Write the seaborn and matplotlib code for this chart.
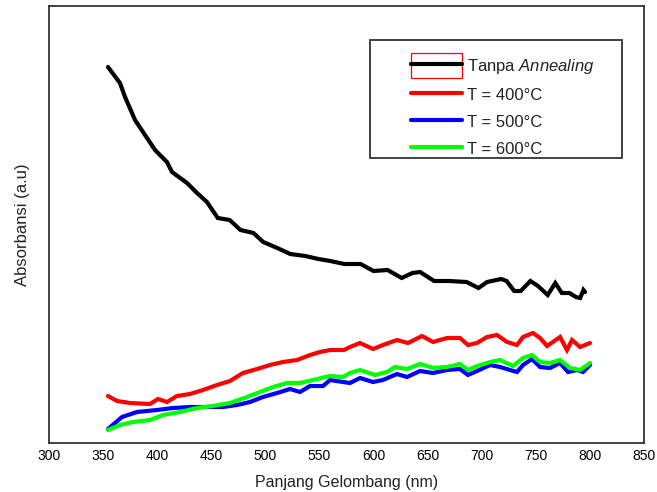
import numpy as np
import pandas as pd
import matplotlib
matplotlib.use("Agg")
import matplotlib.pyplot as plt
from matplotlib.legend_handler import HandlerLine2D
from matplotlib.lines import Line2D
from matplotlib.patches import Rectangle
import seaborn as sns

# Absorbance spectra (arbitrary units) against wavelength in nm
wl_as = [354.5, 365.6, 370.3, 379.5, 386.9, 398.0, 409.0, 413.7, 427.6, 436.8,
         446.0, 456.0, 467.0, 477.0, 489.0, 498.0, 511.0, 523.0, 537.0, 549.0,
         560.0, 573.0, 588.0, 600.0, 613.0, 626.0, 636.0, 643.0, 656.0, 670.0,
         686.0, 697.0, 705.0, 718.0, 723.0, 730.0, 736.0, 745.0, 752.0, 761.0,
         768.0, 774.0, 781.0, 787.0, 791.0, 794.0, 795.5]
abs_as = [1.880, 1.800, 1.730, 1.615, 1.555, 1.465, 1.405, 1.355, 1.300, 1.250,
          1.205, 1.125, 1.115, 1.065, 1.050, 1.005, 0.975, 0.945, 0.935, 0.920,
          0.910, 0.895, 0.895, 0.860, 0.865, 0.825, 0.850, 0.855, 0.810, 0.810,
          0.805, 0.775, 0.805, 0.820, 0.810, 0.760, 0.760, 0.810, 0.785, 0.740,
          0.800, 0.750, 0.750, 0.730, 0.725, 0.765, 0.755]

wl_400 = [354.5, 362.9, 374.9, 393.4, 400.8, 409.1, 418.3, 430.3, 442.4, 455.3,
          467.3, 479.3, 492.3, 504.3, 516.3, 529.3, 541.3, 550.5, 559.8, 572.7,
          578.2, 587.5, 599.5, 608.7, 621.7, 631.9, 644.8, 655.0, 667.9, 679.9,
          687.3, 695.6, 704.9, 714.1, 723.4, 732.6, 738.2, 747.4, 753.9, 760.4,
          772.4, 778.8, 783.5, 790.9, 800.1]
abs_400 = [0.235, 0.210, 0.200, 0.195, 0.220, 0.205, 0.235, 0.245, 0.265, 0.290,
           0.310, 0.350, 0.370, 0.390, 0.405, 0.415, 0.440, 0.455, 0.465, 0.465,
           0.480, 0.500, 0.470, 0.490, 0.515, 0.500, 0.535, 0.505, 0.525, 0.525,
           0.490, 0.500, 0.530, 0.540, 0.505, 0.490, 0.530, 0.550, 0.525, 0.485,
           0.530, 0.465, 0.515, 0.480, 0.500]

wl_500 = [354.5, 367.5, 381.3, 399.8, 414.6, 430.3, 446.1, 460.8, 473.8, 485.8,
          497.8, 510.8, 522.8, 532.0, 541.3, 553.3, 559.8, 571.8, 578.2, 587.5,
          599.5, 608.7, 621.7, 630.9, 643.0, 655.0, 667.9, 679.9, 687.3, 695.6,
          707.7, 716.9, 726.1, 732.6, 738.2, 746.5, 753.9, 763.1, 772.4, 779.8,
          788.1, 793.6, 800.1]
abs_500 = [0.070, 0.130, 0.155, 0.165, 0.175, 0.180, 0.180, 0.180, 0.190, 0.205,
           0.230, 0.250, 0.270, 0.255, 0.285, 0.285, 0.315, 0.305, 0.300, 0.325,
           0.305, 0.315, 0.345, 0.330, 0.360, 0.350, 0.365, 0.370, 0.340, 0.360,
           0.390, 0.380, 0.365, 0.355, 0.390, 0.420, 0.380, 0.375, 0.400, 0.355,
           0.365, 0.355, 0.390]

wl_600 = [354.5, 365.6, 377.6, 393.4, 405.4, 421.1, 436.8, 451.6, 467.3, 483.0,
          495.0, 507.1, 520.0, 532.0, 544.0, 559.8, 571.8, 578.2, 587.5, 601.4,
          612.4, 619.8, 630.9, 643.0, 655.0, 667.9, 679.9, 687.3, 695.6, 707.7,
          716.9, 728.9, 738.2, 746.5, 753.9, 763.1, 772.4, 781.6, 790.9, 800.1]
abs_600 = [0.065, 0.090, 0.105, 0.115, 0.140, 0.155, 0.175, 0.185, 0.200, 0.230,
           0.255, 0.280, 0.300, 0.300, 0.315, 0.335, 0.330, 0.350, 0.365, 0.340,
           0.355, 0.380, 0.370, 0.395, 0.375, 0.380, 0.395, 0.365, 0.385, 0.405,
           0.415, 0.385, 0.425, 0.440, 0.405, 0.400, 0.415, 0.375, 0.365, 0.400]

series_labels = ["Tanpa Annealing", "T = 400°C", "T = 500°C", "T = 600°C"]
legend_texts = ["Tanpa $\\it{Annealing}$", "T = 400°C", "T = 500°C", "T = 600°C"]
series_colors = ["#000000", "#ff0000", "#0000ff", "#00ff00"]
x_ticks = [300, 350, 400, 450, 500, 550, 600, 650, 700, 750, 800, 850]

frames = []
for lab, wl, ab in zip(series_labels,
                       [wl_as, wl_400, wl_500, wl_600],
                       [abs_as, abs_400, abs_500, abs_600]):
    frames.append(pd.DataFrame({"wl": wl, "abs": ab, "sample": lab}))
df = pd.concat(frames, ignore_index=True)

sns.set_theme(style="white")
plt.rcParams["font.family"] = ["Liberation Sans", "DejaVu Sans"]
plt.rcParams["mathtext.fontset"] = "custom"
plt.rcParams["mathtext.rm"] = "Liberation Sans"
plt.rcParams["mathtext.it"] = "Liberation Sans:italic"

fig = plt.figure(figsize=(6.57, 4.92), dpi=100)
ax = fig.add_axes([49 / 657, 49 / 492, 595 / 657, 437 / 492])

sns.lineplot(data=df, x="wl", y="abs", hue="sample", hue_order=series_labels,
             palette=dict(zip(series_labels, series_colors)), sort=False,
             estimator=None, linewidth=3.0, legend=False, ax=ax)
for ln in ax.lines:
    ln.set_solid_joinstyle("miter")

ax.set_xlim(300, 850)
ax.set_ylim(0, 2.185)
ax.set_xticks(x_ticks)
ax.set_xticklabels([str(t) for t in x_ticks])
ax.set_yticks([])
ax.tick_params(axis="x", length=0, pad=4, labelsize=10, colors="black")
for sp in ax.spines.values():
    sp.set_visible(True)
    sp.set_color("#333333")
    sp.set_linewidth(1.3)

ax.set_xlabel("Panjang Gelombang (nm)", fontsize=11.5, color="#222222", labelpad=9)
ax.set_ylabel("Absorbansi (a.u)", fontsize=12, color="#222222", labelpad=14)


class BoxedLineHandler(HandlerLine2D):
    """Line handle drawn inside a thin red outline box."""

    def create_artists(self, legend, orig_handle, xdescent, ydescent,
                       width, height, fontsize, trans):
        artists = super().create_artists(legend, orig_handle, xdescent, ydescent,
                                         width, height, fontsize, trans)
        box_h = 18.0
        rect = Rectangle((-xdescent, -ydescent + height / 2 - box_h / 2),
                         width, box_h, fill=False, edgecolor="#ff0000",
                         linewidth=0.9, transform=trans)
        return [rect] + list(artists)


handles = [Line2D([], [], color=c, linewidth=3.0) for c in series_colors]
leg = fig.legend(handles, legend_texts, loc="upper left",
                 bbox_to_anchor=(411 / 657, 1 - 57 / 492),
                 bbox_transform=fig.transFigure, frameon=False, borderpad=0,
                 borderaxespad=0, handlelength=3.05, handletextpad=0.3,
                 handleheight=1.15, labelspacing=0.60, fontsize=12,
                 handler_map={handles[0]: BoxedLineHandler()})
for t in leg.get_texts():
    t.set_color("#222222")

# legend outline box
fig.patches.append(Rectangle((369.5 / 657, 1 - 158 / 492), 252.5 / 657, 118.5 / 492,
                             transform=fig.transFigure, fill=False,
                             edgecolor="#333333", linewidth=1.3, zorder=5))

fig.savefig("out.png", dpi=100)
